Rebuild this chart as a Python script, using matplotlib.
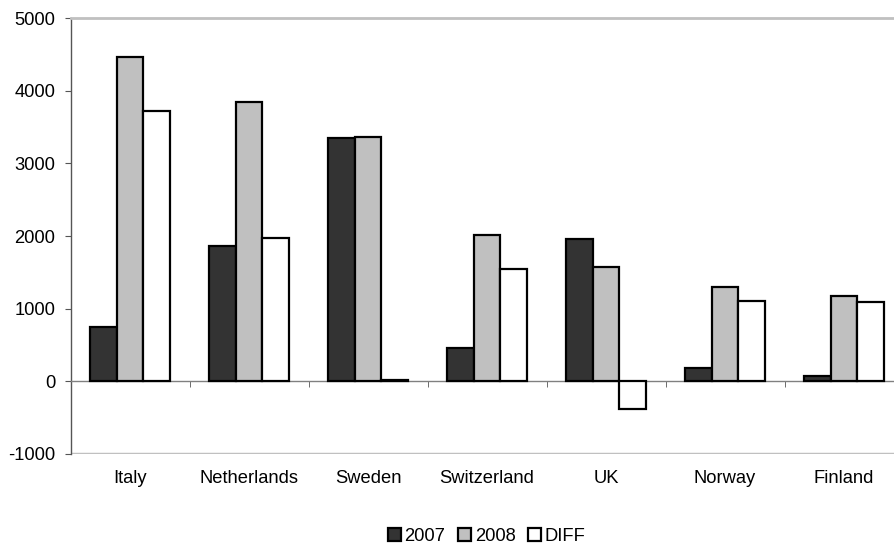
import numpy as np
import matplotlib
matplotlib.use("Agg")
import matplotlib.pyplot as plt
from matplotlib.ticker import FixedLocator

plt.rcParams['font.family'] = ['Liberation Sans', 'DejaVu Sans']
plt.rcParams['axes.unicode_minus'] = False

# data
countries = ["Italy", "Netherlands", "Sweden", "Switzerland", "UK", "Norway", "Finland"]
y2007 = [752, 1868, 3347, 460, 1956, 187, 77]
y2008 = [4471, 3843, 3369, 2015, 1570, 1295, 1175]
diff = [3723, 1970, 18, 1547, -386, 1102, 1092]

series = [("2007", y2007, "#333333"), ("2008", y2008, "#c0c0c0"), ("DIFF", diff, "#ffffff")]
FS = 13.2

fig = plt.figure(figsize=(8.95, 5.47), dpi=100)
ax = fig.add_axes([0.0788, 0.1706, 0.9307, 0.7959])

x = np.arange(len(countries))
w = 0.222
for i, (name, vals, col) in enumerate(series):
    ax.bar(x + (i - 1) * w, vals, w, color=col, edgecolor="black", linewidth=1.6, label=name, zorder=3)

ax.set_xlim(-0.5, len(countries) - 0.5)
ax.set_ylim(-1000, 5000)
ax.set_yticks(range(-1000, 5001, 1000))

# spines: left dark, x axis line at zero, light grey frame top/bottom
ax.spines["right"].set_visible(False)
ax.spines["left"].set_color("#555555")
ax.spines["left"].set_linewidth(1.0)
ax.spines["top"].set_color("#c0c0c0")
ax.spines["top"].set_linewidth(2)
ax.spines["bottom"].set_position(("data", 0))
ax.spines["bottom"].set_color("#808080")
ax.spines["bottom"].set_linewidth(1.0)
ax.axhline(-1000, color="#c0c0c0", linewidth=2.5, zorder=1)

ax.set_xticks(x)
ax.set_xticklabels(countries)
ax.xaxis.set_minor_locator(FixedLocator(np.arange(0.5, len(countries), 1.0)))
ax.tick_params(axis="x", which="major", length=0, pad=64, labelsize=FS)
ax.tick_params(axis="x", which="minor", length=4, direction="out", color="#555555")
ax.tick_params(axis="y", length=4, direction="out", color="#555555", pad=7, labelsize=FS)

fig.legend(loc="lower center", bbox_to_anchor=(0.544, 0.004), ncol=3, frameon=False,
           fontsize=FS, handlelength=0.7, handleheight=0.7, handletextpad=0.2,
           columnspacing=0.7, borderpad=0, borderaxespad=0)

fig.savefig("out.png", dpi=100)
